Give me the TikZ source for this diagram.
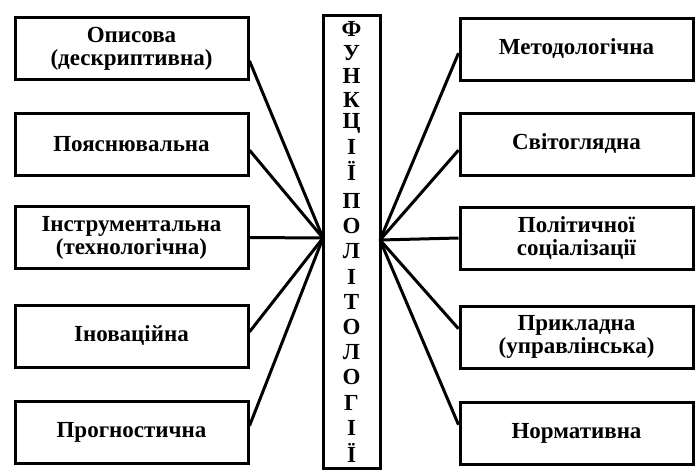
\documentclass[tikz,border=0pt]{standalone}
\usepackage{fontspec}
\setmainfont{Liberation Serif}
\usetikzlibrary{positioning}

\begin{document}
\begin{tikzpicture}[x=1pt, y=-1pt,
		funbox/.style={shape=rectangle, draw, line width=3pt, minimum width=233pt, minimum height=62pt, inner sep=1pt, align=center, font=\bfseries\fontsize{23}{23}\selectfont},
		link/.style={line width=3pt}]
		
		\useasboundingbox (0,0) rectangle (700,475);
		
		% centre column
		\node (col) at (351.5,241.5) [shape=rectangle, draw, line width=3pt, minimum width=57pt, minimum height=453pt] {};
		\foreach \ch [count=\i] in {Ф,У,Н,К,Ц,І,Ї}
			\node (w\i) at (351.5, 29 + 23.6*\i - 23.6) [font=\bfseries\fontsize{23}{23}\selectfont] {\ch};
		\foreach \ch [count=\i] in {П,О,Л,І,Т,О,Л,О,Г,І,Ї}
			\node (p\i) at (351.5, 201 + 25.2*\i - 25.2) [font=\bfseries\fontsize{23}{23}\selectfont] {\ch};
		
		\coordinate (hl) at (323,238);
		\coordinate (hr) at (380,240);
		
		% left column
		\node (l1) at (131.5,48.5) [funbox] {Описова\\(дескриптивна)};
		\node (l2) at (131.5,144) [funbox] {Пояснювальна};
		\node (l3) at (131.5,237.5) [funbox] {Інструментальна\\(технологічна)};
		\node (l4) at (131.5,336) [funbox] {Іноваційна};
		\node (l5) at (131.5,432) [funbox] {Прогностична};
		
		% right column
		\node (r1) at (576.5,49) [funbox] {Методологічна};
		\node (r2) at (576.5,144) [funbox] {Світоглядна};
		\node (r3) at (576.5,238) [funbox] {Політичної\\соціалізації};
		\node (r4) at (576.5,337) [funbox] {Прикладна\\(управлінська)};
		\node (r5) at (576.5,433) [funbox] {Нормативна};
		
		\draw[link] (l1.-6) -- (hl);
		\draw[link] (l2.-3) -- (hl);
		\draw[link] (l3.east) -- (hl);
		\draw[link] (l4.2) -- (hl);
		\draw[link] (l5.3.5) -- (hl);
		
		\draw[link] (hr) -- (r1.182);
		\draw[link] (hr) -- (r2.183);
		\draw[link] (hr) -- (r3.west);
		\draw[link] (hr) -- (r4.176);
		\draw[link] (hr) -- (r5.176);
	\end{tikzpicture}
\end{document}
